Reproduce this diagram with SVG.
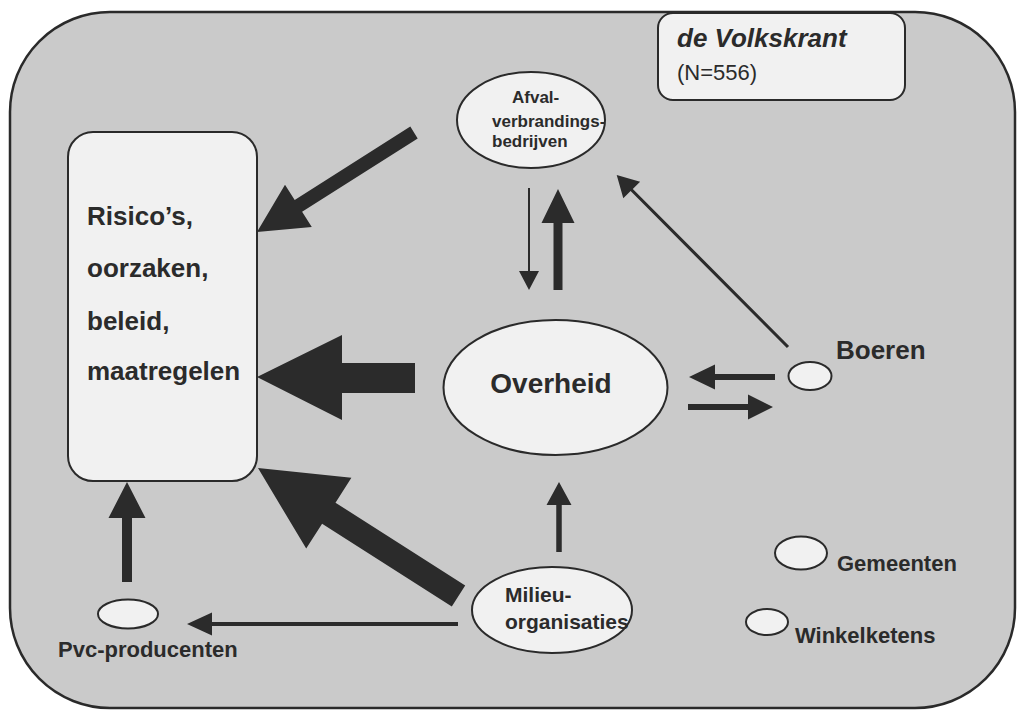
<svg xmlns="http://www.w3.org/2000/svg" width="1019" height="710" viewBox="0 0 1019 710">
<style>
.frame{fill:#cacaca;stroke:#2a2a2a;stroke-width:2.5}
.node{fill:#f1f1f1;stroke:#2a2a2a;stroke-width:2}
.arr{fill:#2b2b2b;stroke:none}
text{font-family:"Liberation Sans",Arial,sans-serif;font-weight:bold;fill:#2b2b2b}
.big{font-size:26px}
.mid{font-size:21px}
.small{font-size:17px}
.reg{font-weight:normal}
</style>
<rect class="frame" x="10" y="12" width="1005" height="696" rx="100" ry="100"/>
<g id="title">
<rect class="node" x="658" y="13" width="247" height="87" rx="15" ry="15"/>
<text x="677" y="47" font-size="26" font-style="italic">de Volkskrant</text>
<text class="reg" x="677" y="80" font-size="22">(N=556)</text>
</g>
<g id="risico">
<rect class="node" x="68" y="132" width="189" height="349" rx="25" ry="25"/>
<text class="big" x="87" y="225">Risico’s,</text>
<text class="big" x="87" y="277">oorzaken,</text>
<text class="big" x="87" y="330">beleid,</text>
<text class="big" x="87" y="380">maatregelen</text>
</g>
<g id="afval">
<ellipse class="node" cx="531" cy="120" rx="74" ry="48"/>
<text class="small" x="512" y="103">Afval-</text>
<text class="small" x="492" y="127">verbrandings-</text>
<text class="small" x="492" y="147">bedrijven</text>
</g>
<g id="overheid">
<ellipse class="node" cx="555.5" cy="387.5" rx="112" ry="67.5"/>
<text x="551" y="393" font-size="28" text-anchor="middle">Overheid</text>
</g>
<g id="boeren">
<ellipse class="node" cx="810" cy="376" rx="21.5" ry="14"/>
<text x="836" y="359" font-size="26">Boeren</text>
</g>
<g id="milieu">
<ellipse class="node" cx="552" cy="610" rx="80" ry="43"/>
<text class="mid" x="505" y="602">Milieu-</text>
<text class="mid" x="505" y="629">organisaties</text>
</g>
<g id="pvc">
<ellipse class="node" cx="128" cy="614" rx="30" ry="14.5"/>
<text x="58" y="657" font-size="22">Pvc-producenten</text>
</g>
<g id="gemeenten">
<ellipse class="node" cx="801" cy="553" rx="26" ry="16.5"/>
<text x="837" y="571" font-size="22">Gemeenten</text>
</g>
<g id="winkelketens">
<ellipse class="node" cx="767" cy="622" rx="21" ry="13"/>
<text x="795" y="643" font-size="22">Winkelketens</text>
</g>
<g id="connectors">
<polygon class="arr" points="257,232 311.8,226.9 302.1,211.7 417.7,138.4 410.3,126.6 294.7,199.9 285,184.7"/>
<polygon class="arr" points="257,377 342,335 342,363 415,363 415,393 342,393 342,420"/>
<polygon class="arr" points="258,468 351.4,477.8 335.5,502.7 465.2,585.5 451.8,606.5 322.1,523.7 306.2,548.6"/>
<polygon class="arr" points="127,482 145.5,518 132,518 132,582 122,582 122,518 108.5,518"/>
<polygon class="arr" points="187,624 212,612.5 212,622 458,622 458,626 212,626 212,635.5"/>
<polygon class="arr" points="559,482 571.5,505 561.75,505 561.75,552 556.25,552 556.25,505 546.5,505"/>
<polygon class="arr" points="529,290 519,271 528,271 528,188 530,188 530,271 539,271"/>
<polygon class="arr" points="558,189 574.5,223 562.5,223 562.5,290 553.5,290 553.5,223 541.5,223"/>
<polygon class="arr" points="689,377 715,364.5 715,374 775,374 775,380 715,380 715,389.5"/>
<polygon class="arr" points="773,407 748,394.5 748,404 688,404 688,410 748,410 748,419.5"/>
<polygon class="arr" points="616.7,175 623.3,198.3 630.6,191.1 786.9,348.1 789.1,345.9 632.8,188.9 640.1,181.7"/>
</g>
</svg>
